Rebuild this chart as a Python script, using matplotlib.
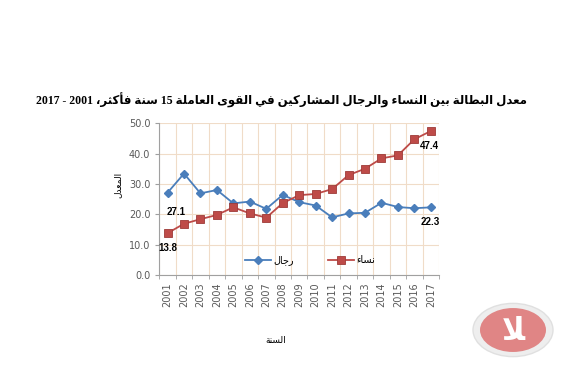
import numpy as np
import matplotlib
matplotlib.use("Agg")
import matplotlib.pyplot as plt
from matplotlib.patches import Circle

years = list(range(2001, 2018))
men = [27.1, 33.4, 26.9, 28.0, 23.6, 24.2, 21.8, 26.4, 24.0, 22.9,
       19.0, 20.3, 20.5, 23.8, 22.4, 22.0, 22.3]
women = [13.8, 16.9, 18.4, 19.8, 22.3, 20.3, 18.9, 23.7, 26.3, 26.7,
         28.3, 32.9, 35.0, 38.4, 39.4, 44.7, 47.4]

title_txt = "معدل البطالة بين النساء والرجال المشاركين في القوى العاملة 15 سنة فأكثر، 2001 - 2017"
ylabel_txt = "المعدل"
xlabel_txt = "السنة"
men_lbl = "رجال"
women_lbl = "نساء"

# --- minimal arabic shaping (no reshaper lib in the sandbox) ---
FORMS = {
    'ء': (0xFE80,), 'آ': (0xFE81, 0xFE82), 'أ': (0xFE83, 0xFE84),
    'ؤ': (0xFE85, 0xFE86), 'إ': (0xFE87, 0xFE88), 'ئ': (0xFE89, 0xFE8A, 0xFE8B, 0xFE8C),
    'ا': (0xFE8D, 0xFE8E), 'ب': (0xFE8F, 0xFE90, 0xFE91, 0xFE92), 'ة': (0xFE93, 0xFE94),
    'ت': (0xFE95, 0xFE96, 0xFE97, 0xFE98), 'ث': (0xFE99, 0xFE9A, 0xFE9B, 0xFE9C),
    'ج': (0xFE9D, 0xFE9E, 0xFE9F, 0xFEA0), 'ح': (0xFEA1, 0xFEA2, 0xFEA3, 0xFEA4),
    'خ': (0xFEA5, 0xFEA6, 0xFEA7, 0xFEA8), 'د': (0xFEA9, 0xFEAA), 'ذ': (0xFEAB, 0xFEAC),
    'ر': (0xFEAD, 0xFEAE), 'ز': (0xFEAF, 0xFEB0), 'س': (0xFEB1, 0xFEB2, 0xFEB3, 0xFEB4),
    'ش': (0xFEB5, 0xFEB6, 0xFEB7, 0xFEB8), 'ص': (0xFEB9, 0xFEBA, 0xFEBB, 0xFEBC),
    'ض': (0xFEBD, 0xFEBE, 0xFEBF, 0xFEC0), 'ط': (0xFEC1, 0xFEC2, 0xFEC3, 0xFEC4),
    'ظ': (0xFEC5, 0xFEC6, 0xFEC7, 0xFEC8), 'ع': (0xFEC9, 0xFECA, 0xFECB, 0xFECC),
    'غ': (0xFECD, 0xFECE, 0xFECF, 0xFED0), 'ف': (0xFED1, 0xFED2, 0xFED3, 0xFED4),
    'ق': (0xFED5, 0xFED6, 0xFED7, 0xFED8), 'ك': (0xFED9, 0xFEDA, 0xFEDB, 0xFEDC),
    'ل': (0xFEDD, 0xFEDE, 0xFEDF, 0xFEE0), 'م': (0xFEE1, 0xFEE2, 0xFEE3, 0xFEE4),
    'ن': (0xFEE5, 0xFEE6, 0xFEE7, 0xFEE8), 'ه': (0xFEE9, 0xFEEA, 0xFEEB, 0xFEEC),
    'و': (0xFEED, 0xFEEE), 'ى': (0xFEEF, 0xFEF0), 'ي': (0xFEF1, 0xFEF2, 0xFEF3, 0xFEF4),
}
LAMALEF = {'ا': (0xFEFB, 0xFEFC), 'أ': (0xFEF7, 0xFEF8), 'إ': (0xFEF9, 0xFEFA), 'آ': (0xFEF5, 0xFEF6)}


def dual(c):
    return c in FORMS and len(FORMS[c]) == 4


def shape(s):
    out = []
    i = 0
    while i < len(s):
        c = s[i]
        if c not in FORMS:
            out.append(c)
            i += 1
            continue
        prev = s[i - 1] if i > 0 else ''
        pj = dual(prev)
        if c == 'ل' and i + 1 < len(s) and s[i + 1] in LAMALEF:
            out.append(chr(LAMALEF[s[i + 1]][1 if pj else 0]))
            i += 2
            continue
        nxt = s[i + 1] if i + 1 < len(s) else ''
        nj = dual(c) and nxt in FORMS and nxt != 'ء'
        f = FORMS[c]
        if pj and nj:
            out.append(chr(f[3]))
        elif pj and len(f) > 1:
            out.append(chr(f[1]))
        elif nj:
            out.append(chr(f[2]))
        else:
            out.append(chr(f[0]))
        i += 1
    # visual order: reverse, keep digit runs LTR
    vis = ''.join(out)[::-1]
    res, run = [], ''
    for ch in vis:
        if ch.isdigit():
            run += ch
        else:
            res.append(run[::-1])
            run = ''
            res.append(ch)
    res.append(run[::-1])
    return ''.join(res)


fam = ['Liberation Serif', 'DejaVu Sans']
fam_s = ['Liberation Sans', 'DejaVu Sans']

blue = '#4A7EBB'
red = '#BE4B48'
grid_c = '#F0DCC8'
tick_c = '#595959'

fig = plt.figure(figsize=(5.71, 3.80), dpi=100)
ax = fig.add_axes([0.279, 0.276, 0.49, 0.40])

x = np.arange(len(years))
ax.plot(x, men, color=blue, lw=1.3, marker='D', ms=4.5, mfc=blue, mec=blue, label=shape(men_lbl), zorder=3)
ax.plot(x, women, color=red, lw=1.3, marker='s', ms=6, mfc=red, mec='#9E3B38', mew=0.6, label=shape(women_lbl), zorder=3)

ax.set_xlim(-0.5, len(years) - 0.5)
ax.set_ylim(0, 50)
ax.set_yticks(np.arange(0, 51, 10))
ax.set_yticklabels(['%.1f' % v for v in np.arange(0, 51, 10)])
ax.set_xticks(x)
ax.set_xticklabels([str(y) for y in years], rotation=90)
ax.set_xticks(np.arange(-0.5, len(years)), minor=True)
ax.tick_params(axis='x', which='major', length=0, pad=5, labelsize=7, labelcolor=tick_c)
ax.tick_params(axis='x', which='minor', length=3, color='#A0A0A0', direction='out')
ax.tick_params(axis='y', which='major', length=3, color='#A0A0A0', labelsize=7, labelcolor=tick_c)
ax.grid(True, axis='y', which='major', color=grid_c, lw=0.8)
ax.grid(True, axis='x', which='minor', color=grid_c, lw=0.8)
ax.set_axisbelow(True)
for sp in ['top', 'right']:
    ax.spines[sp].set_visible(False)
for sp in ['left', 'bottom']:
    ax.spines[sp].set_color('#A0A0A0')
    ax.spines[sp].set_linewidth(0.8)

# data labels
ax.annotate('27.1', (0, men[0]), xytext=(6, -14), textcoords='offset points',
            ha='center', va='center', fontsize=7, fontweight='bold', family=fam_s)
ax.annotate('13.8', (0, women[0]), xytext=(0, -10.5), textcoords='offset points',
            ha='center', va='center', fontsize=7, fontweight='bold', family=fam_s)
ax.annotate('47.4', (16, women[-1]), xytext=(-0.7, -10.8), textcoords='offset points',
            ha='center', va='center', fontsize=7, fontweight='bold', family=fam_s)
ax.annotate('22.3', (16, men[-1]), xytext=(-0.7, -10.8), textcoords='offset points',
            ha='center', va='center', fontsize=7, fontweight='bold', family=fam_s)

leg = ax.legend(loc='center', bbox_to_anchor=(0.54, 0.1), ncol=2, frameon=False,
                handlelength=2.6, columnspacing=3.5, handletextpad=0.3,
                prop={'family': fam_s, 'size': 7})

fig.text(0.493, 0.737, shape(title_txt), ha='center', va='center',
         fontsize=8.5, fontweight='bold', family=fam)
fig.text(0.207, 0.513, shape(ylabel_txt), rotation=90, ha='center', va='center',
         fontsize=6.5, family=fam_s)
fig.text(0.482, 0.105, shape(xlabel_txt), ha='center', va='center',
         fontsize=6.5, family=fam_s)

# watermark logo (approximation)
fig.patches.append(Circle((513 / 571, 1 - 330 / 380), 40 / 571, transform=fig.transFigure,
                          facecolor='#EEEEEE', edgecolor='#E0E0E0', zorder=0))
fig.patches.append(Circle((513 / 571, 1 - 330 / 380), 33 / 571, transform=fig.transFigure,
                          facecolor='#E08585', edgecolor='none', zorder=1))
fig.text(513 / 571, 1 - 332 / 380, 'ﻼ', ha='center', va='center', fontsize=22,
         color='white', fontweight='bold', family='DejaVu Sans')

fig.savefig('out.png', dpi=100)
